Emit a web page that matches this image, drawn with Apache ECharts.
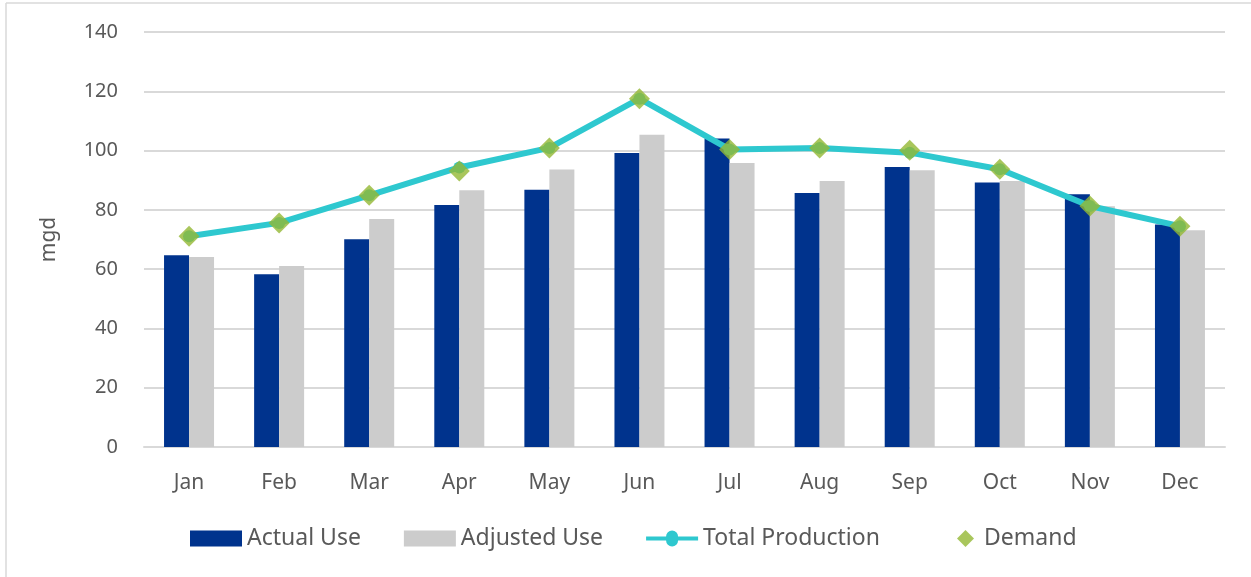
<!DOCTYPE html>
<html lang="en">
  <head>
    <meta charset="UTF-8" />
    <title>Monthly Use and Production</title>
    <script src="https://cdn.jsdelivr.net/npm/echarts@6.0.0/dist/echarts.min.js"></script>
    <style>
      html, body { margin: 0; padding: 0; background: #fff; }
    </style>
  </head>
  <body>
    <div id="main" style="width: 1251px; height: 577px"></div>
    <script type="text/javascript">
      const months = ["Jan", "Feb", "Mar", "Apr", "May", "Jun", "Jul", "Aug", "Sep", "Oct", "Nov", "Dec"];
      const actualUse = [64.7, 58.3, 70.1, 81.6, 86.8, 99.2, 104.1, 85.7, 94.5, 89.2, 85.3, 75.1];
      const adjustedUse = [64.1, 61.1, 76.9, 86.6, 93.6, 105.3, 95.8, 89.7, 93.4, 89.7, 81.2, 73.1];
      const totalProduction = [71.1, 75.6, 84.9, 94.3, 100.9, 117.5, 100.4, 100.9, 99.3, 93.7, 81.3, 74.5];
      const demand = [71.1, 75.6, 84.9, 93.1, 100.9, 117.5, 100.4, 100.9, 100.1, 93.7, 81.3, 74.5];

      const font = "Noto Sans";
      const textColor = "#595959";
      const legendText = { fontFamily: font, fontSize: 23, color: textColor };

      var myChart = echarts.init(document.getElementById("main"));

      var option = {
        animation: false,
        textStyle: { fontFamily: font },
        graphic: [
          { type: "line", shape: { x1: 6, y1: 3, x2: 1251, y2: 3 }, style: { stroke: "#d9d9d9", lineWidth: 1.5 } },
          { type: "line", shape: { x1: 6, y1: 3, x2: 6, y2: 577 }, style: { stroke: "#d9d9d9", lineWidth: 1.5 } }
        ],
        grid: { left: 144, right: 26, top: 32, bottom: 130 },
        legend: [
          {
            left: 185,
            top: 522,
            itemWidth: 52,
            itemHeight: 16,
            itemGap: 43,
            textStyle: legendText,
            data: [
              { name: "Actual Use", icon: "rect" },
              { name: "Adjusted Use", icon: "rect" },
              {
                name: "Total Production",
                icon: "path://M0,7H20A6,6 0 1 1 32,7H52V11H32A6,6 0 1 1 20,11H0Z"
              }
            ]
          },
          {
            left: 952,
            top: 522,
            itemWidth: 17,
            itemHeight: 17,
            textStyle: Object.assign({ padding: [0, 0, 0, 5] }, legendText),
            data: [{ name: "Demand", icon: "diamond" }]
          }
        ],
        xAxis: {
          type: "category",
          data: months,
          axisLine: { lineStyle: { color: "#d9d9d9", width: 2 } },
          axisTick: { show: false },
          axisLabel: { color: textColor, fontSize: 21, margin: 26 }
        },
        yAxis: {
          type: "value",
          min: 0,
          max: 140,
          interval: 20,
          name: "mgd",
          nameLocation: "middle",
          nameGap: 84,
          nameTextStyle: { color: textColor, fontSize: 21 },
          axisLine: { show: false },
          axisTick: { show: false },
          axisLabel: { color: textColor, fontSize: 20, margin: 26 },
          splitLine: { lineStyle: { color: "#d9d9d9", width: 2 } }
        },
        series: [
          {
            name: "Actual Use",
            type: "bar",
            data: actualUse,
            barWidth: 25,
            barGap: "0%",
            itemStyle: { color: "#00338d" }
          },
          {
            name: "Adjusted Use",
            type: "bar",
            data: adjustedUse,
            barWidth: 25,
            itemStyle: { color: "#cccccc" }
          },
          {
            name: "Total Production",
            type: "line",
            data: totalProduction,
            symbol: "circle",
            symbolSize: 12,
            lineStyle: { color: "#2ec8cf", width: 6 },
            itemStyle: { color: "#2ec8cf" },
            z: 3
          },
          {
            name: "Demand",
            type: "scatter",
            data: demand,
            symbol: "diamond",
            symbolSize: 21,
            itemStyle: { color: "#93b833" },
            z: 4
          }
        ]
      };

      myChart.setOption(option);
    </script>
  </body>
</html>
